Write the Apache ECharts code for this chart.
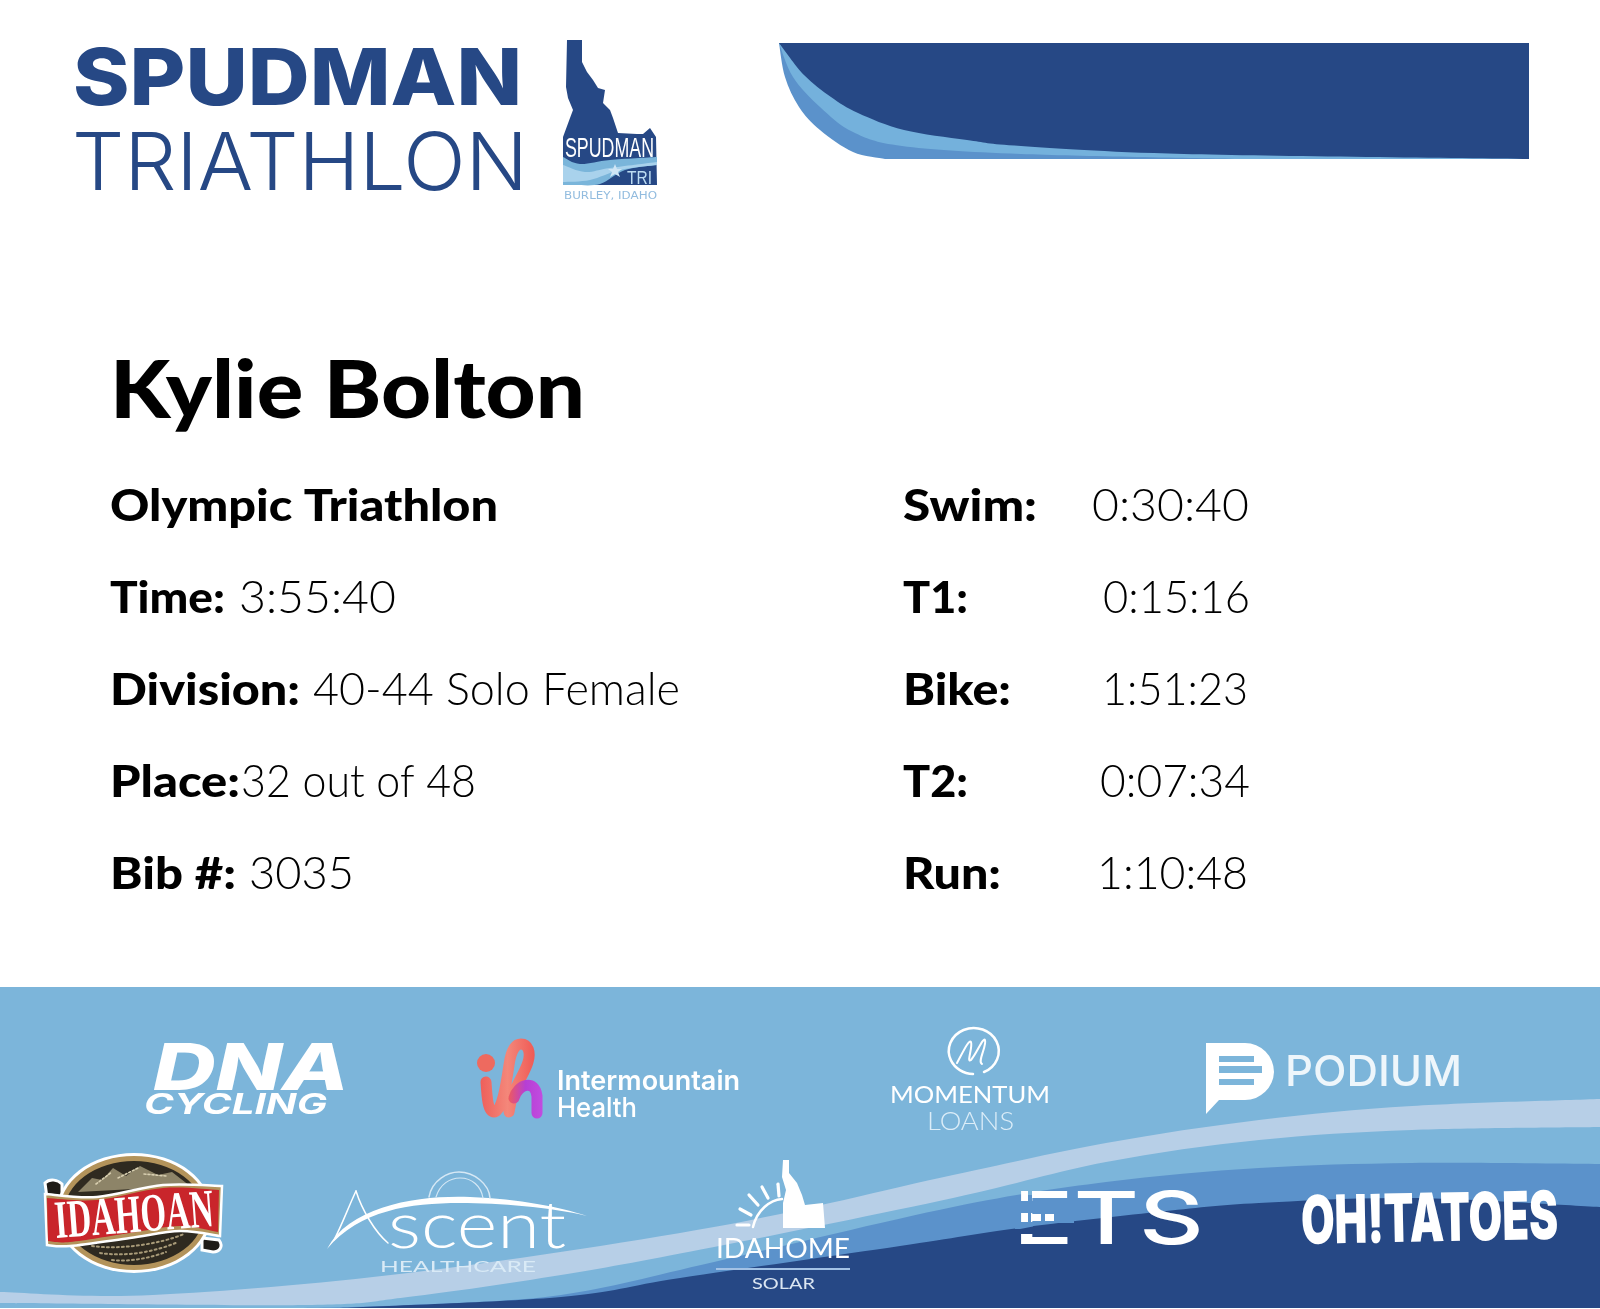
<!DOCTYPE html>
<html><head><meta charset="utf-8">
<style>html,body{margin:0;padding:0;background:#fff}#c{width:1600px;height:1309px}</style>
<script src="https://cdn.jsdelivr.net/npm/echarts@6/dist/echarts.min.js"></script>
</head><body><div id="c"></div>
<script>
// ---- content ----
const athleteName = 'Kylie Bolton';
const raceName = 'Olympic Triathlon';
const infoLabels = ['Time:', 'Division:', 'Place:', 'Bib #:'];
const infoValues = ['3:55:40', '40-44 Solo Female', '32 out of 48', '3035'];
const splitLabels = ['Swim:', 'T1:', 'Bike:', 'T2:', 'Run:'];
const splitValues = ['0:30:40', '0:15:16', '1:51:23', '0:07:34', '1:10:48'];

// ---- layout (kept apart from the content) ----
const DARK = '#264885', MID = '#5b92cb', LIGHT = '#7ab5da', PALE = '#b7cfe7', SKY = '#7cb5da';
const SANS = 'Lato, "Open Sans", sans-serif';
const rowBase = [521, 613, 705, 797, 889];
const infoLabelX = [[110, 225], [110, 300], [110, 240], [110, 236]];
const infoValueX = [[239, 396], [313, 680], [241, 476], [249, 354]];
const splitLabelX = [[903, 1037], [903, 968], [903, 1011], [903, 968], [903, 1001]];
const splitValueX = [[1092, 1249], [1103, 1250], [1102, 1248], [1100, 1250], [1097, 1248]];

const ctx = document.createElement('canvas').getContext('2d');
function fit(text, font, x0, x1, base, fill, rot, sy) {
  ctx.font = font; ctx.textBaseline = 'middle';
  const w = ctx.measureText(text).width;
  const off = ctx.measureText('H').actualBoundingBoxDescent * (sy || 1);
  return {type: 'text', x: x0, y: base - off, scaleX: (x1 - x0) / w, scaleY: sy || 1, rotation: rot || 0, silent: true,
    style: {x: 0, y: 0, text, font, fill, align: 'left', verticalAlign: 'middle'}};
}
function curve(pts, moveFirst) {
  let d = (moveFirst ? 'M' : 'L') + pts[0][0] + ' ' + pts[0][1];
  for (let i = 0; i < pts.length - 1; i++) {
    const p0 = pts[Math.max(i - 1, 0)], p1 = pts[i], p2 = pts[i + 1], p3 = pts[Math.min(i + 2, pts.length - 1)];
    const c1 = [p1[0] + (p2[0] - p0[0]) / 6, p1[1] + (p2[1] - p0[1]) / 6];
    const c2 = [p2[0] - (p3[0] - p1[0]) / 6, p2[1] - (p3[1] - p1[1]) / 6];
    d += 'C' + [c1[0], c1[1], c2[0], c2[1], p2[0], p2[1]].map(v => v.toFixed(1)).join(' ');
  }
  return d;
}
const P = (d, fill, extra) => ({type: 'path', silent: true, shape: {pathData: d}, style: Object.assign({fill}, extra || {})});
const S = (d, stroke, lineWidth, extra) => ({type: 'path', silent: true, shape: {pathData: d}, style: Object.assign({fill: 'none', stroke, lineWidth, lineCap: 'round', lineJoin: 'round'}, extra || {})});
const R = (x, y, w, h, fill) => P(`M${x} ${y}h${w}v${h}h${-w}Z`, fill);
const rev = a => a.slice().reverse();
const poly = pts => 'M' + pts.map(p => p.join(' ')).join('L') + 'Z';
const hGrad = stops => new echarts.graphic.LinearGradient(0, 0, 1, 0, stops.map((c, i) => ({offset: i / (stops.length - 1), color: c})));

function build() {
  const e = [];
  // ---- header logo text ----
  e.push(fit('SPUDMAN', '800 79px Inter, sans-serif', 73, 522, 105, DARK));
  e.push(fit('TRIATHLON', '300 80px Inter, sans-serif', 72, 528, 190, DARK));
  // Idaho badge
  e.push(P(poly([[567,40],[582,40],[582,62],[587,72],[593,80],[598,88],[605,90],[603,103],[610,110],[613,118],[618,133],[637,134],[643,134],[650,128],[656,137],[657,185],[563,185],[563,137],[570,118],[573,110],[568,98],[566,87]]), DARK));
  e.push(P(curve([[563,157],[580,164],[610,160],[657,157]], true) + curve([[657,165],[625,170],[600,184],[575,185]], false) + 'L563 185Z', LIGHT));
  e.push(P(curve([[563,165],[585,172],[610,168],[657,162]], true) + curve([[657,165],[620,170],[590,180],[563,182]], false) + 'Z', '#a9d2ec'));
  e.push(fit('SPUDMAN', '400 28px "Liberation Sans Narrow", "Liberation Sans", sans-serif', 565, 654, 157, '#fff'));
  e.push(P('M615 164l2 5 5 0-4 3 2 5-5-3-5 3 2-5-4-3 5 0z', '#cfe5f5'));
  e.push(fit('TRI', '400 18px "Liberation Sans Narrow", "Liberation Sans", sans-serif', 627, 652, 184, '#bcdcf2'));
  e.push(fit('BURLEY, IDAHO', '400 11px "DejaVu Sans", sans-serif', 564, 657, 199, '#92bcdf'));

  // ---- header banner ----
  const bannerDark = [[779,43],[804,75],[831,97],[858,113],[904,130],[967,140],[1021,146],[1184,154],[1529,159]];
  const bannerLight = [[779,43],[793,77],[820,107],[853,132],[902,146],[1021,154],[1238,159]];
  const bannerMid = [[779,43],[785,77],[799,107],[820,130],[853,152],[885,159]];
  e.push(P(curve(bannerMid, true) + 'L1529 159L1529 43Z', MID));
  e.push(P(curve(bannerLight, true) + 'L1529 159L1529 43Z', '#74b1dc'));
  e.push(P(curve(bannerDark, true) + 'L1529 43Z', DARK));

  // ---- result text ----
  e.push(fit(athleteName, '900 80px ' + SANS, 110, 585, 418, '#000'));
  e.push(fit(raceName, '900 44px ' + SANS, 110, 498, rowBase[0], '#000'));
  infoLabels.forEach((t, i) => e.push(fit(t, '900 44px ' + SANS, infoLabelX[i][0], infoLabelX[i][1], rowBase[i + 1], '#000')));
  infoValues.forEach((t, i) => e.push(fit(t, '300 45px ' + SANS, infoValueX[i][0], infoValueX[i][1], rowBase[i + 1], '#000')));
  splitLabels.forEach((t, i) => e.push(fit(t, '900 44px ' + SANS, splitLabelX[i][0], splitLabelX[i][1], rowBase[i], '#000')));
  splitValues.forEach((t, i) => e.push(fit(t, '300 45px ' + SANS, splitValueX[i][0], splitValueX[i][1], rowBase[i], '#000')));

  // ---- sponsor band ----
  e.push(R(0, 987, 1600, 321, SKY));
  const paleTop = [[0,1292],[153,1295],[408,1273],[714,1227],[953,1175],[1106,1143],[1259,1120],[1412,1106],[1600,1099]];
  const paleBot = [[0,1303],[306,1305],[408,1297],[561,1275],[714,1247],[953,1198],[1106,1162],[1259,1140],[1412,1130],[1600,1127]];
  e.push(P(curve(paleTop, true) + curve(rev(paleBot), false) + 'Z', PALE));
  const midTop = [[300,1308],[408,1305],[561,1295],[714,1262],[953,1207],[1106,1182],[1259,1168],[1412,1163],[1600,1164]];
  e.push(P(curve(midTop, true) + 'L1600 1308Z', MID));
  const darkTop = [[340,1308],[561,1297],[680,1278],[900,1246],[1019,1228],[1157,1212],[1259,1203],[1412,1198],[1600,1207]];
  e.push(P(curve(darkTop, true) + 'L1600 1308Z', DARK));

  // DNA Cycling
  e.push(fit('DNA', 'italic 800 65px Inter, sans-serif', 153, 349, 1090, '#fff'));
  e.push(fit('CYCLING', 'italic 700 29px Inter, sans-serif', 144, 327, 1114, '#fff'));

  // Intermountain Health
  e.push(P('M486 1054a9 9 0 1 0 .01 0Z', '#ee6a5f'));
  e.push(S('M486 1082C487 1098 488 1112 494 1112C502 1112 506 1085 509 1065C511 1050 516 1044 521 1044C528 1044 531 1052 528 1062C524 1076 512 1088 509 1112', hGrad(['#ee5f5a', '#f4877a', '#ef5a55']), 11));
  e.push(S('M514 1098C518 1084 535 1079 537 1096L537 1113', hGrad(['#ee5a5e', '#b63fd4', '#c14ce0']), 11));
  e.push(fit('Intermountain', '600 27px Inter, sans-serif', 557, 740, 1090, '#fff'));
  e.push(fit('Health', '500 27px Inter, sans-serif', 557, 637, 1117, '#fff'));

  // Momentum Loans
  e.push(S('M984 1072A25 23 0 1 0 973 1074', '#fff', 2.5));
  e.push(S('M957 1063C963 1052 969 1039 971 1042C973 1047 966 1064 971 1060C977 1053 983 1037 985 1040C987 1046 977 1062 982 1064', '#fff', 2));
  e.push(fit('MOMENTUM', '400 24px Lato, sans-serif', 890, 1050, 1103, '#fff'));
  e.push(fit('LOANS', '300 25px Lato, sans-serif', 927, 1014, 1130, '#dcedf8'));

  // Podium
  e.push(P('M1206 1043L1245 1043A29 29 0 0 1 1274 1072A29 29 0 0 1 1245 1100L1219 1100L1206 1114Z', '#fff'));
  e.push(R(1219, 1056, 35, 6, SKY)); e.push(R(1219, 1066, 43, 7, SKY)); e.push(R(1219, 1079, 35, 6, SKY));
  e.push(fit('PODIUM', '500 42px Inter, sans-serif', 1285, 1462, 1086, '#eef6fb'));

  // Idahoan
  e.push(P('M45 1183C50 1178 58 1180 62 1184L62 1198L47 1198Z', '#1f1c17', {stroke: '#fff', lineWidth: 3}));
  e.push(P('M202 1238L219 1240C224 1247 219 1252 213 1252L202 1250Z', '#1f1c17', {stroke: '#fff', lineWidth: 3}));
  e.push(P('M134 1153A78 60 0 1 0 134.01 1153Z', '#fff'));
  e.push(P('M134 1156A75 57 0 1 0 134.01 1156Z', '#b3935a'));
  e.push(P('M134 1161A70 52 0 1 0 134.01 1161Z', '#2f2a20'));
  e.push(P(poly([[78,1192],[92,1178],[102,1180],[113,1168],[126,1176],[140,1166],[158,1175],[172,1172],[190,1186]]), '#8d8468'));
  e.push(S('M96 1184L112 1172M118 1178L138 1168M144 1174L166 1176', '#d8cfb0', 1.6, {lineDash: [2, 2]}));
  e.push(S('M92 1246C120 1250 160 1244 184 1234', '#a89a78', 2, {lineDash: [2, 3]}));
  e.push(S('M100 1253C125 1257 155 1252 178 1242', '#a89a78', 2, {lineDash: [2, 3]}));
  e.push(S('M112 1260C130 1262 150 1258 166 1252', '#a89a78', 2, {lineDash: [2, 3]}));
  e.push(P(curve([[45,1194],[97,1197],[163,1185],[222,1186]], true) + curve([[220,1236],[180,1231],[130,1238],[70,1246],[47,1245]], false) + 'Z', '#b3935a', {stroke: '#fff', lineWidth: 2.5}));
  e.push(P(curve([[47,1198],[97,1200],[163,1188],[219,1190]], true) + curve([[218,1232],[180,1226],[130,1233],[70,1242],[48,1241]], false) + 'Z', '#c9252b'));
  e.push(fit('IDAHOAN', '700 54px "Liberation Serif", serif', 55, 214, 1238, '#fff', 0.075));

  // Ascent Healthcare
  e.push(P('M327 1249C350 1205 420 1195 470 1197C520 1199 560 1207 587 1216C550 1207 500 1203 460 1203C410 1203 360 1210 327 1249Z', '#fff'));
  e.push(S('M356 1191C362 1210 375 1232 388 1243', '#fff', 1.5));
  e.push(S('M356 1191C348 1208 342 1225 334 1240', '#fff', 1.5));
  e.push(S('M429 1197C432 1180 448 1172 459 1172C474 1172 489 1184 490 1198', '#d6e8f5', 1.5));
  e.push(S('M436 1197C440 1184 450 1178 460 1178C472 1178 481 1186 483 1198', '#d6e8f5', 1.2));
  e.push(fit('scent', '300 66px Lato, sans-serif', 388, 566, 1248, '#fff'));
  e.push(fit('HEALTHCARE', '400 16px Lato, sans-serif', 380, 536, 1272, '#d9eaf6'));

  // Idahome Solar
  e.push(P(poly([[783,1160],[789,1160],[789,1173],[797,1183],[802,1195],[805,1205],[823,1203],[825,1228],[783,1228],[783,1203],[786,1190],[782,1177]]), '#fff'));
  e.push(S('M753 1227C757 1210 770 1200 782 1199', '#fff', 2.5));
  [[737,1225,749,1225],[740,1209,751,1215],[749,1195,758,1205],[762,1187,768,1198],[778,1184,779,1196]].forEach(r =>
    e.push(S(`M${r[0]} ${r[1]}L${r[2]} ${r[3]}`, '#fff', 3.2)));
  e.push(fit('IDAHOME', '400 26px Lato, sans-serif', 716, 850, 1258, '#fff'));
  e.push(R(716, 1268, 134, 2, '#a3c2e5'));
  e.push(fit('SOLAR', '400 16px Lato, sans-serif', 752, 815, 1289, '#dbe6f2'));

  // ETS, with the E's stem and bars opened up the way the logo has them
  e.push(fit('ETS', '500 73px Inter, sans-serif', 1013, 1204, 1244, '#fff'));
  e.push(R(1015, 1201, 18, 12, MID));
  e.push(R(1015, 1222, 18, 7, MID));
  e.push(P('M1015 1230L1033 1226.5L1033 1234L1015 1234Z', DARK));
  e.push(R(1028, 1190, 4, 5, SKY)); e.push(R(1028, 1195, 4, 7, MID));
  e.push(R(1028, 1212, 3, 11, MID)); e.push(R(1041, 1212, 4, 11, MID)); e.push(R(1054, 1212, 20, 11, MID));

  // Oh!Tatoes
  e.push(fit('OH!TATOES', '900 67px Inter, sans-serif', 1301, 1558, 1244, '#fff', 0.02));
  return e;
}

const chart = echarts.init(document.getElementById('c'), null, {renderer: 'canvas', width: 1600, height: 1309});
chart.setOption({
  animation: false,
  backgroundColor: '#fff',
  tooltip: {show: false},
  series: [{
    type: 'custom',
    coordinateSystem: 'none',
    silent: true,
    data: [[0]],
    renderItem: () => ({type: 'group', children: build()})
  }]
});
</script></body></html>
